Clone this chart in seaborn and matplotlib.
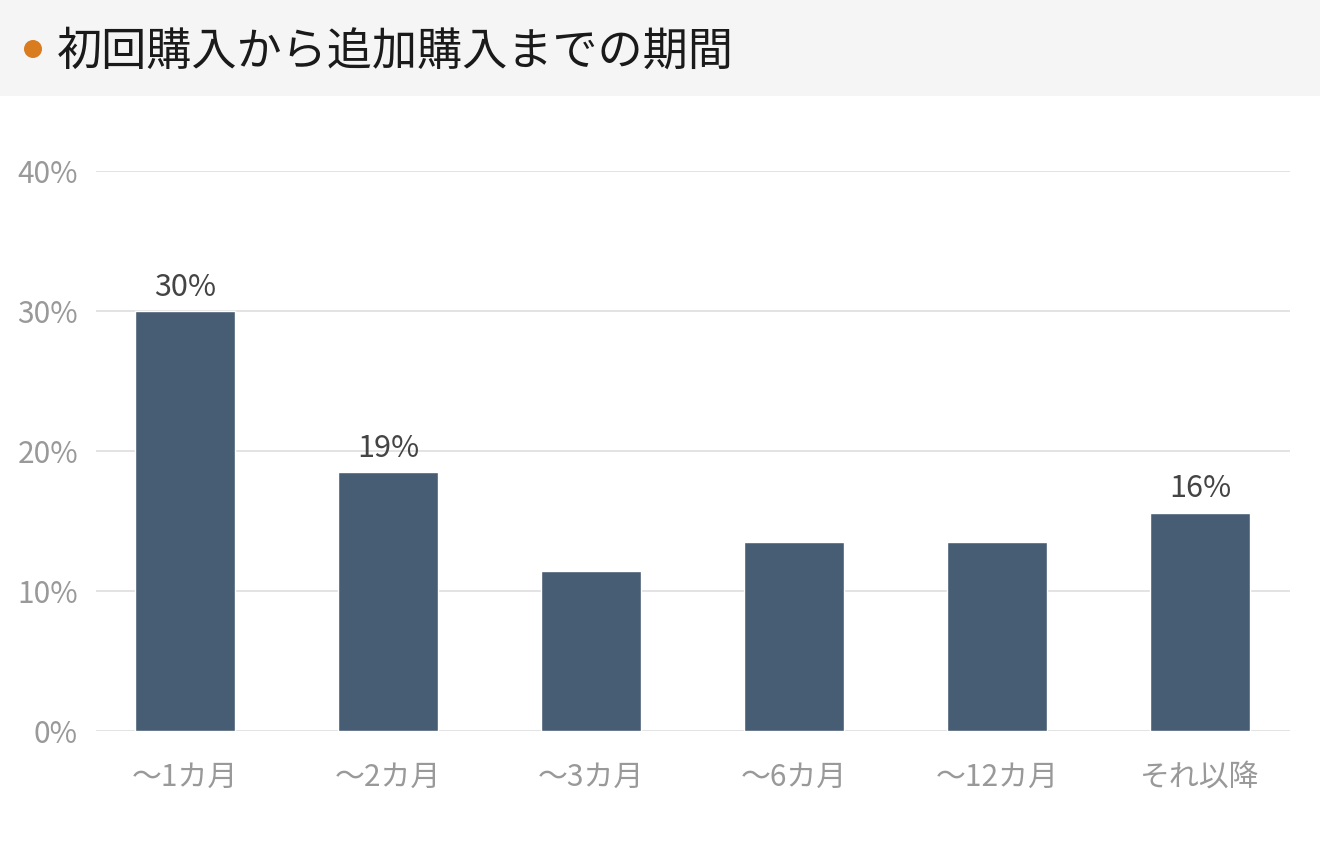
import matplotlib
matplotlib.use("Agg")
import matplotlib.pyplot as plt
from matplotlib.patches import Rectangle, Ellipse
import seaborn as sns
import pandas as pd

# ---- data ----
categories = ["～1カ月", "～2カ月", "～3カ月", "～6カ月", "～12カ月", "それ以降"]
values = [30.0, 18.5, 11.4, 13.5, 13.5, 15.6]
bar_labels = ["30%", "19%", "", "", "", "16%"]
y_ticks = [0, 10, 20, 30, 40]
y_tick_labels = ["0%", "10%", "20%", "30%", "40%"]
title = "初回購入から追加購入までの期間"

sns.set_theme(style="white")
plt.rcParams['font.family'] = ['Noto Sans CJK JP', 'DejaVu Sans']

W, H = 1320, 844
fig = plt.figure(figsize=(W / 100, H / 100), dpi=100)
fig.patch.set_facecolor("white")

# title band
fig.patches.append(Rectangle((0, 1 - 96 / H), 1, 96 / H, transform=fig.transFigure,
                             facecolor="#f5f5f5", edgecolor="none", zorder=0))
fig.patches.append(Ellipse((33 / W, 1 - 49 / H), 18 / W, 18 / H, transform=fig.transFigure,
                           facecolor="#d97b1f", edgecolor="none", zorder=1))
fig.text(57 / W, 1 - 52 / H, title, fontsize=32.5, color="#1a1a1a", va="center", ha="left")

ax = fig.add_axes([96 / W, (H - 731) / H, (1290 - 96) / W, (731 - 171) / H])
df = pd.DataFrame({"cat": categories, "val": values})
sns.barplot(data=df, x="cat", y="val", color="#475d73", width=0.49, ax=ax,
            saturation=1, zorder=3)

ax.set_ylim(0, 40)
ax.set_xlim(-0.438, 5.443)
ax.set_yticks(y_ticks)
ax.set_yticklabels(y_tick_labels)
ax.set_xlabel("")
ax.set_ylabel("")
ax.grid(axis="y", color="#e3e3e3", linewidth=1.4, zorder=0)
ax.set_axisbelow(True)
for s in ax.spines.values():
    s.set_visible(False)
ax.tick_params(axis="y", length=0, pad=13, labelsize=21.5, labelcolor="#999999")
ax.tick_params(axis="x", length=0, pad=22, labelsize=21.5, labelcolor="#999999")
for t in ax.get_yticklabels():
    t.set_va("center_baseline")

for i, (v, lab) in enumerate(zip(values, bar_labels)):
    if lab:
        ax.annotate(lab, (i, v), xytext=(0, 6), textcoords="offset points",
                    ha="center", va="bottom", fontsize=22, color="#444444")

fig.savefig("out.png", dpi=100)
